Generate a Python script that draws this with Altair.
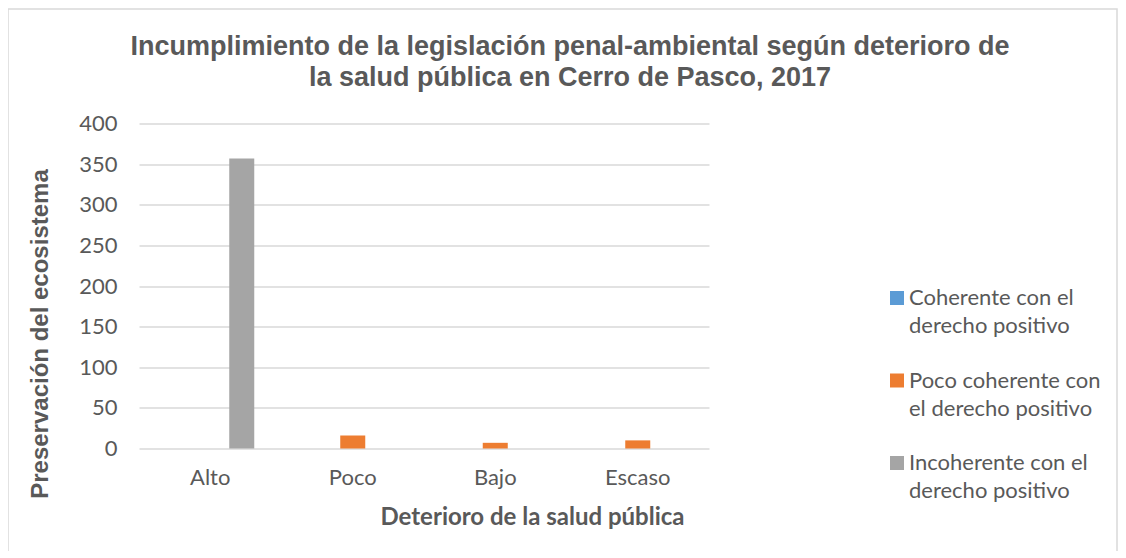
import altair as alt
import pandas as pd

categories = ["Alto", "Poco", "Bajo", "Escaso"]
series_names = ["Coherente con el derecho positivo",
                "Poco coherente con el derecho positivo",
                "Incoherente con el derecho positivo"]
legend_line1 = ["Coherente con el", "Poco coherente con", "Incoherente con el"]
legend_line2 = ["derecho positivo", "el derecho positivo", "derecho positivo"]
coherente = [0, 0, 0, 0]
poco_coherente = [0, 16, 7, 10]
incoherente = [357, 0, 0, 0]
colors = ["#5B9BD5", "#ED7D31", "#A5A5A5"]
title_lines = ["Incumplimiento de la legislación penal-ambiental según deterioro de",
               "la salud pública en Cerro de Pasco, 2017"]

rows = []
for vals, name in zip([coherente, poco_coherente, incoherente], series_names):
    for c, v in zip(categories, vals):
        rows.append({"cat": c, "serie": name, "valor": v})
df = pd.DataFrame(rows)

TXT = "#595959"
BODY = "Lato"
FS = 22

bars = alt.Chart(df).mark_bar().encode(
    x=alt.X("cat:N", sort=categories,
            scale=alt.Scale(paddingInner=0, paddingOuter=0),
            axis=alt.Axis(title="Deterioro de la salud pública", labelAngle=0,
                          labelFont=BODY, labelFontSize=FS, labelColor=TXT,
                          labelPadding=19, ticks=False, domain=False, grid=False,
                          titleFont=BODY, titleFontSize=24, titleFontWeight="bold",
                          titleColor=TXT, titleX=393, titleY=69,
                          titleBaseline="middle", titleAnchor="middle")),
    xOffset=alt.XOffset("serie:N", sort=series_names,
                        scale=alt.Scale(paddingInner=0.206, paddingOuter=0.865)),
    y=alt.Y("valor:Q", scale=alt.Scale(domain=[0, 400], nice=False),
            axis=alt.Axis(title="Preservación del ecosistema", values=list(range(0, 401, 50)),
                          labelFont=BODY, labelFontSize=FS, labelColor=TXT,
                          labelPadding=22, ticks=False, domain=False,
                          gridColor="#D9D9D9", gridWidth=1.3,
                          titleFont="Liberation Sans", titleFontSize=24,
                          titleFontWeight="bold", titleColor=TXT,
                          titleX=-99, titleY=210, titleBaseline="middle",
                          titleAnchor="middle")),
    color=alt.Color("serie:N", sort=series_names,
                    scale=alt.Scale(domain=series_names, range=colors),
                    legend=None),
)

frame = alt.Chart(pd.DataFrame({"a": [0]})).mark_rect(
    fill=None, stroke="#D9D9D9", strokeWidth=1.5
).encode(x=alt.value(-131), x2=alt.value(978), y=alt.value(-114.5), y2=alt.value(600))

title_df = pd.DataFrame({"t": title_lines, "i": [0, 1]})
title_layer = alt.Chart(title_df).mark_text(
    font="Liberation Sans", fontSize=27, fontWeight="bold", color=TXT,
    align="center", baseline="alphabetic"
).encode(
    text="t:N",
    x=alt.value(431),
    y=alt.Y("i:Q", scale=alt.Scale(domain=[0, 1], range=[-69, -38]), axis=None),
)

leg_df = pd.DataFrame({"serie": series_names, "l1": legend_line1, "l2": legend_line2,
                       "k": [0, 1, 2]})
leg_y = alt.Y("k:Q", scale=alt.Scale(domain=[0, 2], range=[174.5, 339.5]), axis=None)
leg_sq = alt.Chart(leg_df).mark_square(size=196, opacity=1).encode(
    x=alt.value(758), y=leg_y,
    color=alt.Color("serie:N", scale=alt.Scale(domain=series_names, range=colors),
                    legend=None),
)
leg_t1 = alt.Chart(leg_df).mark_text(
    font=BODY, fontSize=FS, color=TXT, align="left", baseline="middle"
).encode(x=alt.value(770), y=leg_y, text="l1:N")
leg_t2 = alt.Chart(leg_df).mark_text(
    font=BODY, fontSize=FS, color=TXT, align="left", baseline="middle", dy=28
).encode(x=alt.value(770), y=leg_y, text="l2:N")

chart = alt.layer(frame, bars, title_layer, leg_sq, leg_t1, leg_t2).resolve_scale(
    y="independent"
).properties(
    width=570, height=325,
    autosize=alt.AutoSizeParams(type="none"),
    padding={"left": 131, "top": 115.5, "right": 409, "bottom": 102},
    background="white",
).configure_view(stroke=None)

chart.save("out.html", embed_options={"renderer": "svg", "actions": False})
